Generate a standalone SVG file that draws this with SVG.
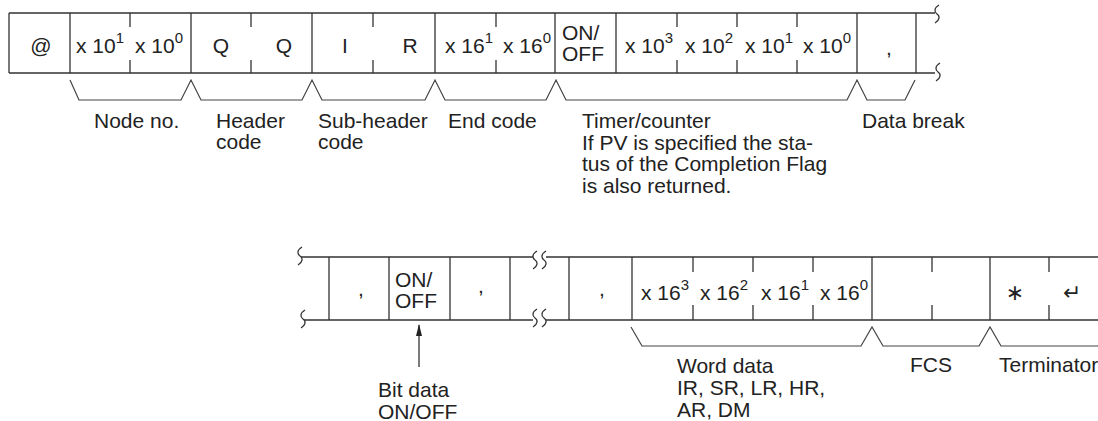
<svg xmlns="http://www.w3.org/2000/svg" width="1098" height="421" viewBox="0 0 1098 421">
<style>
  .ln { stroke:#333; stroke-width:1.3; fill:none; }
  .br { stroke:#444; stroke-width:1.2; fill:none; }
  .t { font-family:"Liberation Sans", Arial, sans-serif; font-size:21px; fill:#222; }
  .s { font-size:15px; }
  .c { text-anchor:middle; }
  .sym { font-family:"DejaVu Sans", sans-serif; font-size:22px; fill:#222; text-anchor:middle; }
</style>
<defs>
  <path id="wv" d="M2,-9 C-3,-6 -3,-2 0,0 C3,2 3,6 -2,9" />
  <marker id="ah" viewBox="0 0 12 6" refX="11" refY="3" markerWidth="12" markerHeight="6" markerUnits="userSpaceOnUse" orient="auto">
    <path d="M0,0 L12,3 L0,6 z" fill="#222"/>
  </marker>
</defs>

<!-- Top frame -->
<g id="frame-top" class="ln">
  <path d="M9,13 H935 M9,73 H935"/>
  <path d="M9,13 V73 M70,13 V73 M191,13 V73 M312,13 V73 M435,13 V73 M555,13 V73 M616,13 V73 M857,13 V73 M916,13 V73"/>
  <path d="M130,13 V27 M130,60 V73 M251,13 V27 M251,60 V73 M373,13 V27 M373,60 V73 M496,13 V27 M496,60 V73 M677,13 V27 M677,60 V73 M737,13 V27 M737,60 V73 M797,13 V27 M797,60 V73"/>
  <use href="#wv" x="937" y="14"/>
  <use href="#wv" x="938" y="72"/>
</g>

<g id="at"><text class="t c" x="41" y="53">@</text></g>
<g id="node-no">
  <text class="t" x="76" y="53">x 10<tspan class="s" dy="-10">1</tspan></text>
  <text class="t" x="135" y="53">x 10<tspan class="s" dy="-10">0</tspan></text>
</g>
<g id="header-code">
  <text class="t c" x="221" y="53">Q</text>
  <text class="t c" x="284" y="53">Q</text>
</g>
<g id="subheader-code">
  <text class="t c" x="345" y="53">I</text>
  <text class="t c" x="410" y="53">R</text>
</g>
<g id="end-code">
  <text class="t" x="445" y="53">x 16<tspan class="s" dy="-10">1</tspan></text>
  <text class="t" x="503" y="53">x 16<tspan class="s" dy="-10">0</tspan></text>
</g>
<g id="onoff-top">
  <text class="t" x="562" y="40">ON/</text>
  <text class="t" x="562" y="61">OFF</text>
</g>
<g id="timer-counter">
  <text class="t" x="625" y="53">x 10<tspan class="s" dy="-10">3</tspan></text>
  <text class="t" x="685" y="53">x 10<tspan class="s" dy="-10">2</tspan></text>
  <text class="t" x="745" y="53">x 10<tspan class="s" dy="-10">1</tspan></text>
  <text class="t" x="803" y="53">x 10<tspan class="s" dy="-10">0</tspan></text>
</g>
<g id="data-break"><text class="t c" x="889" y="55">,</text></g>

<!-- Top labels -->
<g id="labels-top">
  <text class="t" x="94" y="128">Node no.</text>
  <text class="t" x="216" y="128">Header</text>
  <text class="t" x="216" y="149">code</text>
  <text class="t" x="318" y="128">Sub-header</text>
  <text class="t" x="318" y="149">code</text>
  <text class="t" x="448" y="128">End code</text>
  <text class="t" x="582" y="128">Timer/counter</text>
  <text class="t" x="582" y="149.5">If PV is specified the sta-</text>
  <text class="t" x="582" y="171">tus of the Completion Flag</text>
  <text class="t" x="582" y="192.5">is also returned.</text>
  <text class="t" x="862" y="128">Data break</text>
</g>

<!-- Bottom frame -->
<g id="frame-bottom" class="ln">
  <path d="M301,257 H533 M546,257 H1098 M304,320 H533 M546,320 H1098"/>
  <path d="M329,257 V320 M389,257 V320 M450,257 V320 M510,257 V320 M569,257 V320 M632,257 V320 M872,257 V320 M990,257 V320"/>
  <path d="M693,257 V272 M693,305 V320 M753,257 V272 M753,305 V320 M813,257 V272 M813,305 V320 M932,257 V272 M932,305 V320 M1049,257 V272 M1049,305 V320"/>
  <use href="#wv" x="300" y="256"/>
  <use href="#wv" x="303" y="319"/>
  <use href="#wv" x="535" y="260"/>
  <use href="#wv" x="544" y="260"/>
  <use href="#wv" x="535" y="318"/>
  <use href="#wv" x="544" y="318"/>
</g>

<g id="bit-sep1"><text class="t c" x="361" y="296">,</text></g>
<g id="bit-data">
  <text class="t" x="395" y="287">ON/</text>
  <text class="t" x="395" y="308">OFF</text>
</g>
<g id="bit-sep2"><text class="t c" x="481" y="293">,</text></g>
<g id="word-sep"><text class="t c" x="602" y="296">,</text></g>
<g id="word-data">
  <text class="t" x="641" y="300">x 16<tspan class="s" dy="-10">3</tspan></text>
  <text class="t" x="700" y="300">x 16<tspan class="s" dy="-10">2</tspan></text>
  <text class="t" x="761" y="300">x 16<tspan class="s" dy="-10">1</tspan></text>
  <text class="t" x="820" y="300">x 16<tspan class="s" dy="-10">0</tspan></text>
</g>
<g id="fcs"></g>
<g id="terminator">
  <text class="sym" x="1015" y="300">∗</text>
  <text class="sym" x="1072" y="300">↵</text>
</g>

<!-- Connectors -->
<g id="connectors">
  <path class="br" d="M70,80 L79,100 L181,100 L191,80 L201,100 L302,100 L312,80 L322,100 L425,100 L435,80 L445,100 L546,100 L556,80 L566,100 L847,100 L857,80 L867,100 L905,100 L915,80"/>
  <path class="br" d="M631,327 L642,346 L861,346 L872,327 L883,346 L979,346 L990,327 L1001,346 L1098,346 L1102,339"/>
  <line class="ln" x1="419" y1="367" x2="419" y2="325" marker-end="url(#ah)"/>
</g>

<!-- Bottom labels -->
<g id="labels-bottom">
  <text class="t" x="378" y="397">Bit data</text>
  <text class="t" x="378" y="419">ON/OFF</text>
  <text class="t" x="677" y="373">Word data</text>
  <text class="t" x="677" y="395">IR, SR, LR, HR,</text>
  <text class="t" x="677" y="417">AR, DM</text>
  <text class="t" x="910" y="372">FCS</text>
  <text class="t" x="999" y="372">Terminator</text>
</g>
</svg>
